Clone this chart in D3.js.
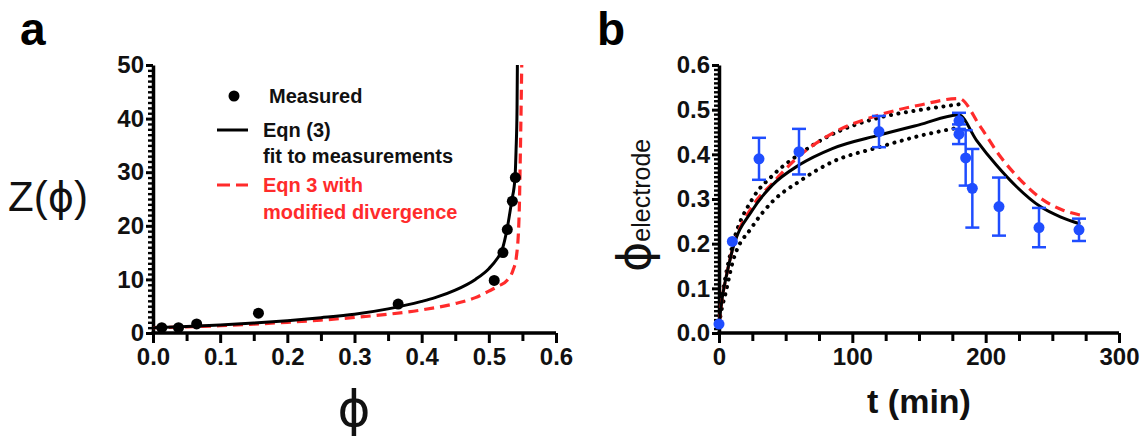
<!DOCTYPE html>
<html>
<head>
<meta charset="utf-8">
<script src="https://cdn.jsdelivr.net/npm/d3@7"></script>
<style>
  body { margin: 0; background: #fff; }
  svg { display: block; font-family: "Liberation Sans", Arial, sans-serif; }
</style>
</head>
<body>
<svg id="fig" width="1145" height="442"></svg>
<script>
// ---- Panel a data: viscosity Z(phi) ----
const phiMeasured = [0.013, 0.038, 0.065, 0.157, 0.365, 0.508, 0.521, 0.5275, 0.535, 0.5395];
const zMeasured   = [1.0, 1.0, 1.7, 3.7, 5.4, 9.8, 15.0, 19.3, 24.6, 29.0];

const phiFit = [0, 0.05, 0.1, 0.15, 0.2, 0.25, 0.3, 0.35, 0.4, 0.42, 0.45, 0.48, 0.5, 0.512, 0.52, 0.527, 0.534, 0.539, 0.5405, 0.542, 0.5425];
const zFit   = [1.0, 1.2, 1.5, 1.85, 2.3, 2.85, 3.5, 4.5, 5.9, 6.6, 8.0, 10.0, 12.0, 13.8, 15.6, 19.3, 24.6, 29, 34, 42, 50];

// Eqn 3 with modified divergence
const phiMod = [0, 0.05, 0.1, 0.15, 0.2, 0.25, 0.3, 0.35, 0.4, 0.45, 0.48, 0.5, 0.515, 0.527, 0.536, 0.541, 0.545, 0.547, 0.549];
const zMod   = [1.0, 1.15, 1.35, 1.65, 2.0, 2.4, 2.9, 3.5, 4.3, 5.5, 6.6, 7.8, 8.8, 9.8, 11.7, 14.2, 21.6, 34, 50];

const aXTicks = [0, 0.1, 0.2, 0.3, 0.4, 0.5, 0.6];
const aYTicks = [0, 10, 20, 30, 40, 50];

// ---- Panel b data: phi at electrode vs time ----
const tMeasured    = [0, 10, 30, 60, 120, 180, 180, 185, 190, 210, 240, 270];
const phiElectrode = [0.02, 0.205, 0.39, 0.406, 0.451, 0.475, 0.445, 0.392, 0.324, 0.283, 0.236, 0.231];
const phiError     = [0, 0, 0.047, 0.051, 0.035, 0.018, 0.022, 0.062, 0.088, 0.065, 0.044, 0.025];

const tModel   = [0, 2.5, 5, 10, 25, 40, 60, 85, 120, 150, 180, 193, 208, 223, 241, 256, 271];
const phiModel = [0.02, 0.08, 0.12, 0.185, 0.275, 0.331, 0.376, 0.413, 0.443, 0.466, 0.488, 0.432, 0.376, 0.328, 0.283, 0.26, 0.244];

const tModRed   = [0, 2.5, 5, 10, 25, 40, 60, 85, 120, 150, 180, 196, 211, 226, 243, 258, 271];
const phiModRed = [0.02, 0.08, 0.12, 0.186, 0.283, 0.335, 0.396, 0.447, 0.488, 0.51, 0.525, 0.462, 0.395, 0.343, 0.298, 0.275, 0.264];

const tBand        = [0, 2.5, 5, 10, 25, 40, 60, 85, 120, 150, 180];
const phiBandUpper = [0.02, 0.085, 0.128, 0.195, 0.3, 0.352, 0.4, 0.445, 0.482, 0.499, 0.512];
const phiBandLower = [0.02, 0.06, 0.09, 0.156, 0.238, 0.294, 0.339, 0.383, 0.416, 0.441, 0.46];

const bXTicks = [0, 100, 200, 300];
const bYTicks = [0, 0.1, 0.2, 0.3, 0.4, 0.5, 0.6];

const RED = "#ff2b2b", BLUE = "#1f4dff";

const svg = d3.select("#fig");

// helper: thick Prism-style axes with major + minor ticks
function drawAxes(g, x, y, xMajor, xMinor, yMajor, yMinor, xFmt, yFmt) {
    // minor y ticks
    g.append("g")
        .attr("transform", "translate(" + x.range()[0] + ",0)")
        .call(d3.axisLeft(y).tickValues(yMinor).tickSize(5).tickFormat(""))
        .call(a => a.select(".domain").remove())
        .selectAll("line").attr("stroke-width", 2.4);
    // major y ticks
    let ya = g.append("g")
        .attr("transform", "translate(" + x.range()[0] + ",0)")
        .call(d3.axisLeft(y).tickValues(yMajor).tickSize(7).tickSizeOuter(0).tickPadding(2).tickFormat(yFmt));
    ya.select(".domain").attr("stroke-width", 3.5);
    ya.selectAll("line").attr("stroke-width", 3);
    // minor x ticks
    g.append("g")
        .attr("transform", "translate(0," + y.range()[0] + ")")
        .call(d3.axisBottom(x).tickValues(xMinor).tickSize(8).tickFormat(""))
        .call(a => a.select(".domain").remove())
        .selectAll("line").attr("stroke-width", 3);
    // major x ticks
    let xa = g.append("g")
        .attr("transform", "translate(0," + y.range()[0] + ")")
        .call(d3.axisBottom(x).tickValues(xMajor).tickSize(10).tickSizeOuter(0).tickPadding(5).tickFormat(xFmt));
    xa.select(".domain").attr("stroke-width", 3.5).attr("d", "M" + (x.range()[0] - 1.5) + ",0H" + x.range()[1]);
    xa.selectAll("line").attr("stroke-width", 3);

    g.selectAll(".tick text")
        .attr("fill", "#111")
        .style("font-family", "'Liberation Sans', Arial, sans-serif")
        .style("font-weight", "bold")
        .style("font-size", "24px");
}

///// Panel a /////
let xa = d3.scaleLinear().domain([0, 0.6]).range([153, 556]);
let ya = d3.scaleLinear().domain([0, 50]).range([333, 65]);
let gA = svg.append("g");

drawAxes(gA, xa, ya,
    aXTicks, d3.range(0.05, 0.6, 0.1),
    aYTicks, d3.range(0, 51, 1).filter(v => v % 10 !== 0),
    d3.format(".1f"), d3.format("d"));

let lineA = d3.line().curve(d3.curveMonotoneX);

gA.append("path")
    .attr("d", lineA(phiMod.map((p, i) => [xa(p), ya(zMod[i])])))
    .attr("fill", "none").attr("stroke", RED).attr("stroke-width", 3.2)
    .attr("stroke-dasharray", "10,6");

gA.append("path")
    .attr("d", lineA(phiFit.map((p, i) => [xa(p), ya(zFit[i])])))
    .attr("fill", "none").attr("stroke", "#000").attr("stroke-width", 3);

gA.selectAll("circle.meas")
    .data(phiMeasured)
    .enter().append("circle")
    .attr("cx", d => xa(d))
    .attr("cy", (d, i) => ya(zMeasured[i]))
    .attr("r", 5.5)
    .attr("fill", "#000");

// legend
gA.append("circle").attr("cx", 234).attr("cy", 96).attr("r", 5.5).attr("fill", "#000");
gA.append("line").attr("x1", 217).attr("x2", 248).attr("y1", 130).attr("y2", 130)
    .attr("stroke", "#000").attr("stroke-width", 3);
gA.append("line").attr("x1", 217).attr("x2", 248).attr("y1", 185).attr("y2", 185)
    .attr("stroke", RED).attr("stroke-width", 3.2).attr("stroke-dasharray", "13,6");

const legendRows = [
    {t: "Measured", x: 269, y: 103, c: "#111"},
    {t: "Eqn (3)", x: 263, y: 137, c: "#111"},
    {t: "fit to measurements", x: 263, y: 163, c: "#111"},
    {t: "Eqn 3 with", x: 263, y: 192, c: RED},
    {t: "modified divergence", x: 263, y: 219, c: RED}
];
gA.selectAll("text.leg")
    .data(legendRows)
    .enter().append("text")
    .attr("x", d => d.x).attr("y", d => d.y)
    .attr("fill", d => d.c)
    .style("font-weight", "bold")
    .style("font-size", "20px")
    .text(d => d.t);

// axis titles
let zt = gA.append("text").attr("x", 8).attr("y", 211).style("font-size", "42px").attr("fill", "#111");
zt.append("tspan").text("Z(");
zt.append("tspan").style("font-family", "'DejaVu Sans'").style("font-size", "40px").text("\u03d5");
zt.append("tspan").text(")");

gA.append("text")
    .attr("x", 354).attr("y", 426)
    .attr("text-anchor", "middle")
    .style("font-family", "'DejaVu Sans'")
    .style("font-size", "50px")
    .attr("fill", "#111")
    .text("\u03d5");

///// Panel b /////
let xb = d3.scaleLinear().domain([0, 300]).range([719, 1119]);
let yb = d3.scaleLinear().domain([0, 0.6]).range([333, 65]);
let gB = svg.append("g");

drawAxes(gB, xb, yb,
    bXTicks, d3.range(25, 300, 25).filter(v => v % 100 !== 0),
    bYTicks, d3.range(0, 61, 1).filter(v => v % 10 !== 0).map(v => v / 100),
    d3.format("d"), d3.format(".1f"));

let lineB = d3.line().curve(d3.curveMonotoneX);

// confidence band (dotted)
[phiBandUpper, phiBandLower].forEach(arr => {
    gB.append("path")
        .attr("d", lineB(tBand.map((t, i) => [xb(t), yb(arr[i])])))
        .attr("fill", "none").attr("stroke", "#000").attr("stroke-width", 4)
        .attr("stroke-linecap", "round")
        .attr("stroke-dasharray", "0.1,7.5");
});

gB.append("path")
    .attr("d", lineB(tModRed.map((t, i) => [xb(t), yb(phiModRed[i])])))
    .attr("fill", "none").attr("stroke", RED).attr("stroke-width", 3.2)
    .attr("stroke-dasharray", "10,6");

gB.append("path")
    .attr("d", lineB(tModel.map((t, i) => [xb(t), yb(phiModel[i])])))
    .attr("fill", "none").attr("stroke", "#000").attr("stroke-width", 3);

// error bars
let eb = gB.selectAll("g.err")
    .data(tMeasured.map((t, i) => ({t: t, p: phiElectrode[i], e: phiError[i]})).filter(d => d.e > 0))
    .enter().append("g");
eb.append("line")
    .attr("x1", d => xb(d.t)).attr("x2", d => xb(d.t))
    .attr("y1", d => yb(d.p - d.e)).attr("y2", d => yb(d.p + d.e))
    .attr("stroke", BLUE).attr("stroke-width", 2.5);
[-1, 1].forEach(s => {
    eb.append("line")
        .attr("x1", d => xb(d.t) - 7).attr("x2", d => xb(d.t) + 7)
        .attr("y1", d => yb(d.p + s * d.e)).attr("y2", d => yb(d.p + s * d.e))
        .attr("stroke", BLUE).attr("stroke-width", 2.5);
});

gB.selectAll("circle.meas")
    .data(tMeasured)
    .enter().append("circle")
    .attr("cx", d => xb(d))
    .attr("cy", (d, i) => yb(phiElectrode[i]))
    .attr("r", 5.5)
    .attr("fill", BLUE);

// axis titles
let yt = gB.append("text")
    .attr("transform", "translate(650,272) rotate(-90)")
    .attr("fill", "#111");
yt.append("tspan").style("font-family", "'DejaVu Sans'").style("font-size", "46px").text("\u03d5");
yt.append("tspan").style("font-size", "25px").text("electrode");

gB.append("text")
    .attr("x", 919).attr("y", 413)
    .attr("text-anchor", "middle")
    .style("font-weight", "bold")
    .style("font-size", "34px")
    .attr("fill", "#111")
    .text("t (min)");

// panel letters
svg.append("text").attr("x", 20).attr("y", 45).style("font-weight", "bold").style("font-size", "46px").text("a");
svg.append("text").attr("x", 597).attr("y", 45).style("font-weight", "bold").style("font-size", "46px").text("b");
</script>
</body>
</html>
